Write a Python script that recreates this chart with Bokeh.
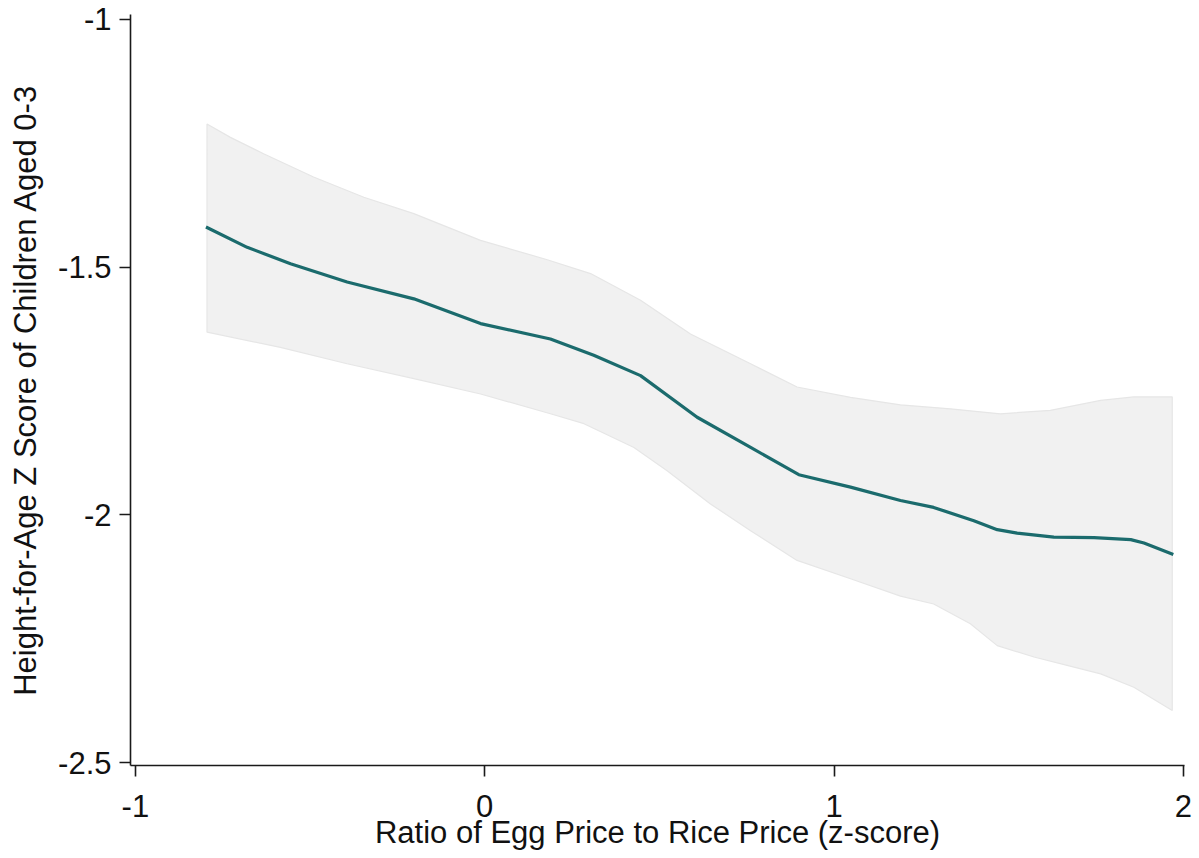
from bokeh.plotting import figure
from bokeh.models import Range1d, FixedTicker
from bokeh.embed import file_html
from bokeh.resources import INLINE

# Fitted line
line_x = [-0.798, -0.680, -0.556, -0.394, -0.203, -0.012, 0.188, 0.312, 0.446,
          0.608, 0.761, 0.899, 1.047, 1.190, 1.285, 1.400, 1.467, 1.524, 1.629,
          1.744, 1.849, 1.887, 1.971]
line_y = [-1.419, -1.460, -1.493, -1.530, -1.564, -1.614, -1.645, -1.678, -1.719,
          -1.803, -1.864, -1.919, -1.944, -1.971, -1.985, -2.012, -2.030, -2.037,
          -2.045, -2.046, -2.050, -2.057, -2.080]

# Confidence band, upper edge
upper_x = [-0.795, -0.728, -0.633, -0.490, -0.346, -0.203, -0.012, 0.179, 0.303,
           0.446, 0.589, 0.761, 0.894, 1.047, 1.190, 1.333, 1.476, 1.619, 1.763,
           1.858, 1.968]
upper_y = [-1.211, -1.238, -1.271, -1.318, -1.359, -1.392, -1.446, -1.485, -1.513,
           -1.567, -1.635, -1.695, -1.742, -1.763, -1.778, -1.786, -1.796, -1.789,
           -1.769, -1.762, -1.762]

# Confidence band, lower edge
lower_x = [-0.795, -0.585, -0.394, -0.203, -0.012, 0.188, 0.284, 0.427, 0.522,
           0.646, 0.761, 0.894, 1.047, 1.190, 1.285, 1.390, 1.467, 1.572, 1.667,
           1.763, 1.858, 1.968]
lower_y = [-1.631, -1.662, -1.695, -1.725, -1.756, -1.796, -1.816, -1.864, -1.911,
           -1.978, -2.032, -2.092, -2.129, -2.164, -2.180, -2.220, -2.264, -2.287,
           -2.304, -2.321, -2.348, -2.395]

x_ticks = [-1, 0, 1, 2]
x_tick_labels = ["-1", "0", "1", "2"]
y_ticks = [-1, -1.5, -2, -2.5]
y_tick_labels = ["-1", "-1.5", "-2", "-2.5"]

FONT = "Liberation Sans"

p = figure(width=1196, height=855, output_backend="svg", toolbar_location=None,
           x_range=Range1d(-1.014, 2.003), y_range=Range1d(-2.506, -0.990),
           min_border_left=130, min_border_right=12, min_border_top=14,
           min_border_bottom=90)

p.outline_line_color = None
p.xgrid.visible = False
p.ygrid.visible = False
p.background_fill_color = "white"
p.border_fill_color = "white"

band_x = upper_x + lower_x[::-1]
band_y = upper_y + lower_y[::-1]
p.patch(band_x, band_y, fill_color="#f1f1f1", line_color="#e6e6e6", line_width=1.2)
p.line(line_x, line_y, line_color="#1b6b6d", line_width=3.2)

for ax in (p.xaxis[0], p.yaxis[0]):
    ax.axis_line_color = "#1a1a1a"
    ax.axis_line_width = 1.6
    ax.major_tick_line_color = "#1a1a1a"
    ax.major_tick_line_width = 1.6
    ax.major_tick_in = 0
    ax.major_tick_out = 11
    ax.minor_tick_line_color = None
    ax.major_label_text_font = FONT
    ax.major_label_text_font_size = "31px"
    ax.major_label_text_color = "#111111"
    ax.axis_label_text_font = FONT
    ax.axis_label_text_font_size = "31px"
    ax.axis_label_text_font_style = "normal"
    ax.axis_label_text_color = "#111111"

p.xaxis.ticker = FixedTicker(ticks=x_ticks)
p.xaxis.major_label_overrides = dict(zip(x_ticks, x_tick_labels))
p.yaxis.ticker = FixedTicker(ticks=y_ticks)
p.yaxis.major_label_overrides = dict(zip(y_ticks, y_tick_labels))
p.yaxis.major_label_orientation = "horizontal"

p.xaxis.axis_label = "Ratio of Egg Price to Rice Price (z-score)"
p.yaxis.axis_label = "Height-for-Age Z Score of Children Aged 0-3"
p.xaxis.major_label_standoff = 18
p.xaxis.axis_label_standoff = -5
p.yaxis.major_label_standoff = 8
p.yaxis.axis_label_standoff = 12

open("out.html", "w").write(file_html(p, INLINE))
